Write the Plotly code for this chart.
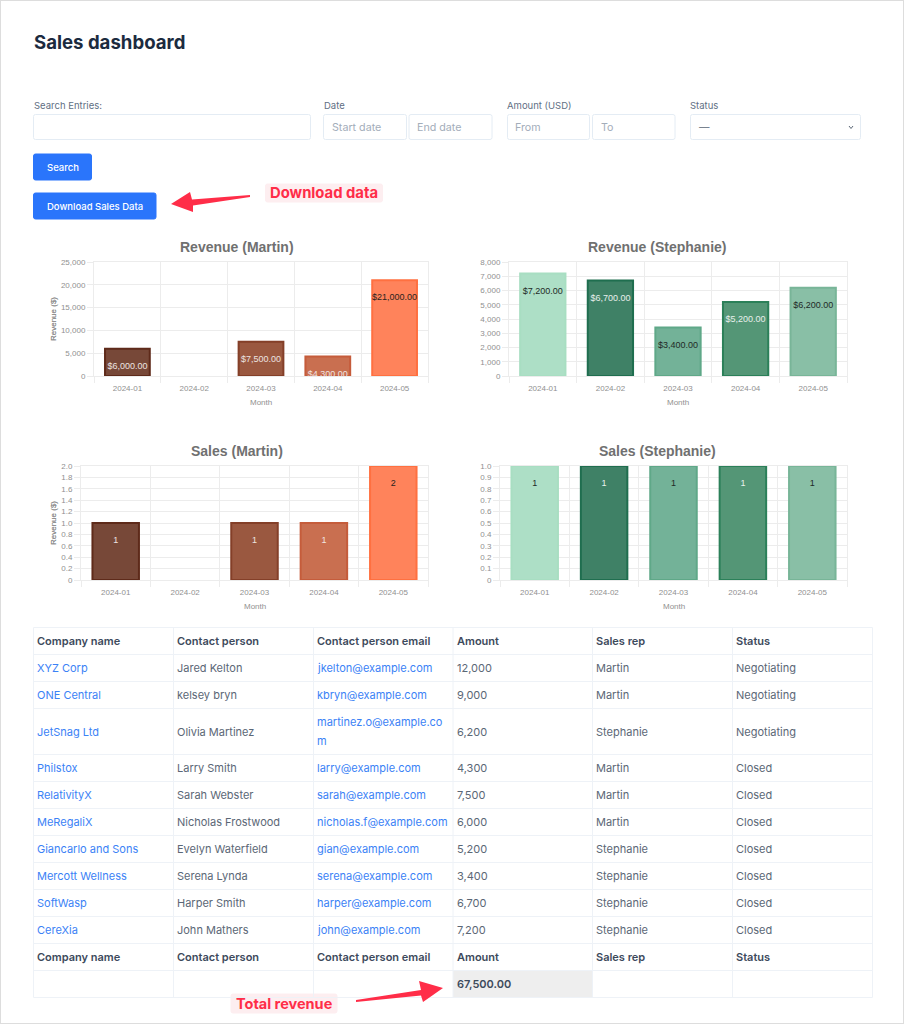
import plotly.graph_objects as go

W, H = 904, 1024

# ---------- data ----------
months = ["2024-01", "2024-02", "2024-03", "2024-04", "2024-05"]

rev_martin = [6000, None, 7500, 4300, 21000]
rev_martin_labels = ["$6,000.00", "", "$7,500.00", "$4,300.00", "$21,000.00"]
rev_steph = [7200, 6700, 3400, 5200, 6200]
rev_steph_labels = ["$7,200.00", "$6,700.00", "$3,400.00", "$5,200.00", "$6,200.00"]
sales_martin = [1, None, 1, 1, 2]
sales_martin_labels = ["1", "", "1", "1", "2"]
sales_steph = [1, 1, 1, 1, 1]
sales_steph_labels = ["1", "1", "1", "1", "1"]

ticks_rev_martin = [0, 5000, 10000, 15000, 20000, 25000]
ticktext_rev_martin = ["0", "5,000", "10,000", "15,000", "20,000", "25,000"]
ticks_rev_steph = [0, 1000, 2000, 3000, 4000, 5000, 6000, 7000, 8000]
ticktext_rev_steph = ["0", "1,000", "2,000", "3,000", "4,000", "5,000", "6,000", "7,000", "8,000"]
ticks_sales_martin = [0, 0.2, 0.4, 0.6, 0.8, 1.0, 1.2, 1.4, 1.6, 1.8, 2.0]
ticktext_sales_martin = ["0", "0.2", "0.4", "0.6", "0.8", "1.0", "1.2", "1.4", "1.6", "1.8", "2.0"]
ticks_sales_steph = [0, 0.1, 0.2, 0.3, 0.4, 0.5, 0.6, 0.7, 0.8, 0.9, 1.0]
ticktext_sales_steph = ["0", "0.1", "0.2", "0.3", "0.4", "0.5", "0.6", "0.7", "0.8", "0.9", "1.0"]

martin_fill = ["#774838", "#774838", "#9a5840", "#c96f50", "#ff835b"]
martin_line = ["#5e2a1a", "#5e2a1a", "#843f28", "#c55c3b", "#ff7040"]
martin_text = ["#ece4e0", "#ece4e0", "#ece4e0", "#f0e4e0", "#2a2320"]
steph_fill = ["#addfc6", "#3f8166", "#73b298", "#549676", "#89bfa6"]
steph_line = ["#a8dec2", "#1f6e4f", "#5fa888", "#2b8059", "#78b598"]
steph_text = ["#222a26", "#e8f0ec", "#222a26", "#e8f0ec", "#222a26"]

table_header = ["Company name", "Contact person", "Contact person email", "Amount", "Sales rep", "Status"]
companies = ["XYZ Corp", "ONE Central", "JetSnag Ltd", "Philstox", "RelativityX", "MeRegaliX",
             "Giancarlo and Sons", "Mercott Wellness", "SoftWasp", "CereXia"]
contacts = ["Jared Kelton", "kelsey bryn", "Olivia Martinez", "Larry Smith", "Sarah Webster",
            "Nicholas Frostwood", "Evelyn Waterfield", "Serena Lynda", "Harper Smith", "John Mathers"]
emails = ["jkelton@example.com", "kbryn@example.com", "martinez.o@example.co<br>m", "larry@example.com",
          "sarah@example.com", "nicholas.f@example.com", "gian@example.com", "serena@example.com",
          "harper@example.com", "john@example.com"]
amounts = ["12,000", "9,000", "6,200", "4,300", "7,500", "6,000", "5,200", "3,400", "6,700", "7,200"]
reps = ["Martin", "Martin", "Stephanie", "Martin", "Martin", "Martin", "Stephanie", "Stephanie", "Stephanie", "Stephanie"]
statuses = ["Negotiating", "Negotiating", "Negotiating", "Closed", "Closed", "Closed", "Closed", "Closed", "Closed", "Closed"]
total_revenue = "67,500.00"

# ---------- helpers ----------
UI = "Inter"
CH = "Liberation Sans"
shapes, notes = [], []


def px(x):
    return x / W


def py(y):
    return 1 - y / H


def label(x, y, s, size=11, color="#5b6776", family=UI, weight=400, anchor="left", angle=0):
    if anchor == "left":
        x -= 1
    notes.append(dict(x=px(x), y=py(y), xref="paper", yref="paper", text=s, showarrow=False,
                      xanchor=anchor, yanchor="middle", align="left", textangle=angle, borderpad=0,
                      font=dict(size=size, color=color, family=family, weight=weight)))


def rrect(x0, y0, x1, y1, r=2, fill="#ffffff", line="#e4ecf4", lw=1):
    p = (f"M {px(x0 + r)} {py(y0)} L {px(x1 - r)} {py(y0)} Q {px(x1)} {py(y0)} {px(x1)} {py(y0 + r)} "
         f"L {px(x1)} {py(y1 - r)} Q {px(x1)} {py(y1)} {px(x1 - r)} {py(y1)} L {px(x0 + r)} {py(y1)} "
         f"Q {px(x0)} {py(y1)} {px(x0)} {py(y1 - r)} L {px(x0)} {py(y0 + r)} Q {px(x0)} {py(y0)} {px(x0 + r)} {py(y0)} Z")
    shapes.append(dict(type="path", xref="paper", yref="paper", path=p, fillcolor=fill, layer="below",
                       line=dict(color=line, width=lw)))


def poly(pts, fill):
    p = "M " + " L ".join(f"{px(a)} {py(b)}" for a, b in pts) + " Z"
    shapes.append(dict(type="path", xref="paper", yref="paper", path=p, fillcolor=fill, line=dict(width=0)))


def hline(x0, x1, y, color="#eef2f7"):
    shapes.append(dict(type="line", xref="paper", yref="paper", x0=px(x0), x1=px(x1), y0=py(y), y1=py(y),
                       layer="below", line=dict(color=color, width=1)))


def vline(x, y0, y1, color="#eef2f7"):
    shapes.append(dict(type="line", xref="paper", yref="paper", x0=px(x), x1=px(x), y0=py(y0), y1=py(y1),
                       layer="below", line=dict(color=color, width=1)))


# ---------- page chrome ----------
hline(0, W, 0.5, "#dddddd")
hline(0, W, 1023.5, "#dddddd")
vline(0.5, 0, H, "#dddddd")
vline(903.5, 0, H, "#dddddd")

label(34, 42, "Sales dashboard", size=18.6, color="#1c2b3f", weight=700)

for x, s in [(34, "Search Entries:"), (324, "Date"), (507, "Amount (USD)"), (690, "Status")]:
    label(x, 105, s, size=9.5, color="#5f6f84")

for x0, x1 in [(33.5, 310.5), (323.5, 406.5), (409, 492), (507.5, 589.5), (592.5, 675), (690.5, 860.5)]:
    rrect(x0, 114.5, x1, 139.5)

for x, s in [(332, "Start date"), (417, "End date"), (515, "From"), (601, "To")]:
    label(x, 127.5, s, size=10.7, color="#a3adba")
label(699, 127.5, "—", size=10.5, color="#5b6776")
shapes.append(dict(type="path", xref="paper", yref="paper",
                   path=f"M {px(849)} {py(126)} L {px(851)} {py(128.5)} L {px(853)} {py(126)}",
                   line=dict(color="#5b6776", width=1)))

BLUE = "#2a75fb"
rrect(33.5, 154, 91.5, 180, fill=BLUE, line=BLUE)
rrect(33.5, 193, 156, 219, fill=BLUE, line=BLUE)
label(62.5, 167.5, "Search", size=9.5, color="#ffffff", weight=500, anchor="center")
label(94.8, 206.5, "Download Sales Data", size=9.5, color="#ffffff", weight=500, anchor="center")

RED = "#ff2d48"
poly([(171, 204), (190, 192), (192, 199.5), (250, 195), (250, 197), (193, 205.5), (193, 212)], RED)
rrect(265.5, 184, 382.5, 202, fill="#fdeef0", line="#fdeef0")
label(324, 193, "Download data", size=14.8, color=RED, weight=700, anchor="center")

poly([(443, 988), (419, 981), (421, 990), (356, 1000), (356, 1002), (421, 995.5), (423, 1002)], RED)
rrect(231, 994, 337, 1013, fill="#fdeef0", line="#fdeef0")
label(284, 1003, "Total revenue", size=14.5, color=RED, weight=700, anchor="center")

# ---------- table ----------
col_edges = [33.5, 173.5, 313.5, 453, 592.5, 732.5, 872.5]
row_edges = [627.5, 654.5, 681.5, 708.5, 754.5, 781.5, 808.5, 835.5, 862.5, 889.5, 916.5, 943.5, 970.5, 997.5]
text_x = [e + 3.5 for e in col_edges[:-1]]
HEAD = "#3d4a5c"
BODY = "#5b6776"
LINK = "#3b82f6"

shapes.append(dict(type="rect", xref="paper", yref="paper", x0=px(col_edges[3]), x1=px(col_edges[4]),
                   y0=py(row_edges[12]), y1=py(row_edges[13]), fillcolor="#eeeeee", layer="below",
                   line=dict(width=0)))
for y in row_edges:
    hline(col_edges[0], col_edges[-1], y)
for x in col_edges:
    vline(x, row_edges[0], row_edges[-1])


def row_mid(i):
    return (row_edges[i] + row_edges[i + 1]) / 2


for j, s in enumerate(table_header):
    label(text_x[j], row_mid(0), s, size=11, color=HEAD, weight=600)
    label(text_x[j], row_mid(11), s, size=11, color=HEAD, weight=600)

for i in range(len(companies)):
    m = row_mid(i + 1)
    label(text_x[0], m, companies[i], color=LINK)
    label(text_x[1], m, contacts[i], color=BODY)
    parts = emails[i].split("<br>")
    for k, part in enumerate(parts):
        label(text_x[2], m + (k - (len(parts) - 1) / 2) * 19, part, color=LINK)
    label(text_x[3], m, amounts[i], color=BODY)
    label(text_x[4], m, reps[i], color=BODY)
    label(text_x[5], m, statuses[i], color=BODY)
label(text_x[3], row_mid(12), total_revenue, size=11, color=HEAD, weight=600)

# ---------- charts ----------
fig = go.Figure()
GRID = "#ececec"
TICK = "#909090"
TITLE = "#707070"
AXT = "#909090"
charts = [
    ("x", "y", (94, 428, 262, 376), "Revenue (Martin)", "Revenue ($)", rev_martin, rev_martin_labels,
     martin_fill, martin_line, martin_text, ticks_rev_martin, ticktext_rev_martin, 25000, 247, 237),
    ("x2", "y2", (509, 847, 262, 376), "Revenue (Stephanie)", "Revenue ($)", rev_steph, rev_steph_labels,
     steph_fill, steph_line, steph_text, ticks_rev_steph, ticktext_rev_steph, 8000, 247, 657),
    ("x3", "y3", (81, 428, 466, 580), "Sales (Martin)", "Revenue ($)", sales_martin, sales_martin_labels,
     martin_fill, martin_line, martin_text, ticks_sales_martin, ticktext_sales_martin, 2, 451, 237),
    ("x4", "y4", (500, 847, 466, 580), "Sales (Stephanie)", "Revenue ($)", sales_steph, sales_steph_labels,
     steph_fill, steph_line, steph_text, ticks_sales_steph, ticktext_sales_steph, 1, 451, 657),
]
axes = {}
for xa, ya, (l, r, t, b), title, ytitle, vals, labs, fill, edge, tcol, tv, tt, ymax, ty, tx in charts:
    fig.add_bar(x=months, y=vals, xaxis=xa, yaxis=ya, width=0.67, showlegend=False,
                marker=dict(color=fill, line=dict(color=edge, width=2)))
    fig.add_scatter(x=months, y=vals, xaxis=xa, yaxis=ya, mode="markers+text", text=labs, showlegend=False,
                    textposition="bottom center", cliponaxis=True,
                    marker=dict(size=20, opacity=0, color="rgba(0,0,0,0)"),
                    textfont=dict(size=9, family=CH, color=tcol))
    xkey = "xaxis" + xa[1:]
    ykey = "yaxis" + ya[1:]
    axes[xkey] = dict(domain=[px(l), px(r)], anchor=ya, type="category", categoryorder="array",
                      categoryarray=months, range=[-0.5, 4.5], tickson="boundaries", ticks="outside", ticklen=6,
                      ticklabelstandoff=4,
                      tickcolor=GRID, gridcolor=GRID, showgrid=True, showline=True, mirror=True, linecolor=GRID,
                      tickfont=dict(size=8, family=CH, color=TICK), fixedrange=True)
    axes[ykey] = dict(domain=[py(b), py(t)], anchor=xa, range=[0, ymax], tickmode="array", tickvals=tv, ticktext=tt,
                      ticks="outside", ticklen=6, tickcolor=GRID, gridcolor=GRID, showgrid=True, zeroline=False,
                      showline=True, mirror=True, linecolor=GRID,
                      tickfont=dict(size=8, family=CH, color=TICK), fixedrange=True)
    label(tx, ty, title, size=14, color=TITLE, family=CH, weight=700, anchor="center")
    label((l + r) / 2, b + 26, "Month", size=8, color=AXT, family=CH, anchor="center")
    label(53, (t + b) / 2, ytitle, size=8, color=AXT, family=CH, anchor="center", angle=-90)

fig.update_layout(width=W, height=H, margin=dict(l=0, r=0, t=0, b=0, pad=0, autoexpand=False), paper_bgcolor="#ffffff",
                  plot_bgcolor="rgba(0,0,0,0)", showlegend=False, shapes=shapes, annotations=notes, bargap=0.31,
                  **axes)
fig.write_html("out.html", config=dict(displayModeBar=False),
               post_script="document.body.style.margin='0';document.body.style.overflow='hidden';")
